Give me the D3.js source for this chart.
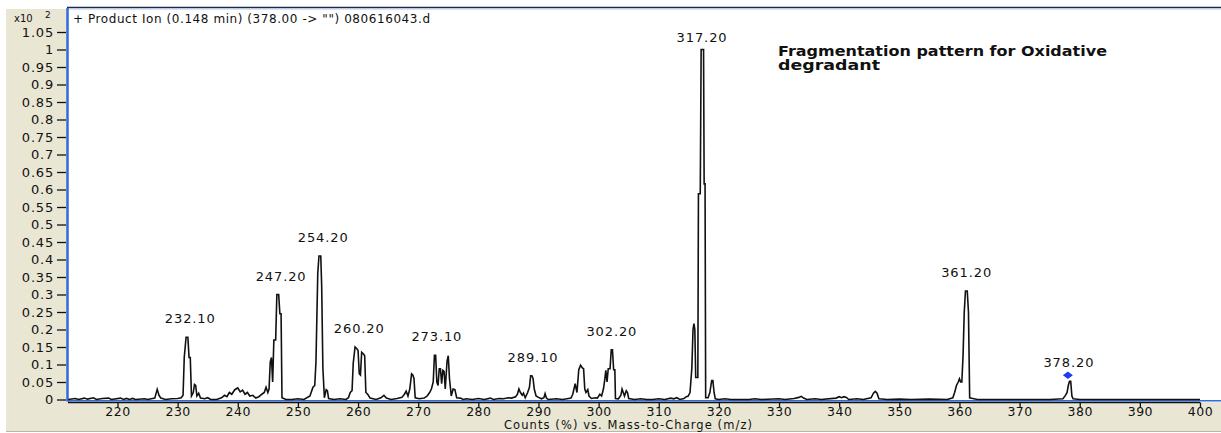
<!DOCTYPE html>
<html>
<head>
<meta charset="utf-8">
<script src="https://cdn.jsdelivr.net/npm/d3@7"></script>
<style>
  body { margin: 0; background: #fff; }
  svg text { font-family: "DejaVu Sans", sans-serif; fill: #111; }
</style>
</head>
<body>
<svg id="spectrum"></svg>
<script>
// profile trace: [m/z, counts x10^2]
const lowNoise = [[211.8,0],[213,0.003],[213.5,0],[214.5,0.004],[215,0.001],[216,0.005],[216.5,0],[217.5,0.003],
  [218.5,0.004],[219,0],[220.5,0.004],[221,0],[221.5,0.003],[222,0],[222.5,0.003],[223,0],[224.5,0.002],[225,0],
  [226.2,0.004],[226.6,0.029],[226.9,0.012],[227.2,0.004],[228,0],[229,0.002],[230,0.003]]
const group232 = [[230.6,0.005],[230.9,0.012],[231.1,0.12],[231.4,0.178],[231.7,0.178],[231.9,0.12],[232.1,0.12],
  [232.3,0.01],[232.6,0.02],[232.8,0.043],[233.0,0.04],[233.2,0.01],[233.5,0.018],[233.8,0.004],[234.5,0.002],
  [235,0.005],[235.5,0]]
const hump240 = [[236.5,0],[237.3,0.005],[237.8,0.012],[238.2,0.008],[238.6,0.02],[239.0,0.015],[239.5,0.028],
  [240.0,0.033],[240.4,0.022],[240.8,0.027],[241.2,0.015],[241.6,0.02],[242.0,0.01],[242.5,0.012],[243.0,0.004],
  [243.5,0.008],[244.0,0.015],[244.4,0.02],[244.7,0.035],[245.0,0.02]]
const group247 = [[245.2,0.03],[245.4,0.107],[245.6,0.12],[245.8,0.05],[246.0,0.17],[246.3,0.17],[246.5,0.30],
  [246.8,0.30],[247.0,0.245],[247.2,0.245],[247.35,0.005],[248,0],[249,0],[250,0.002],[251,0]]
const group254 = [[252.0,0.01],[252.3,0.025],[252.5,0.035],[252.8,0.04],[253.0,0.107],[253.3,0.36],[253.5,0.41],
  [253.8,0.41],[253.95,0.326],[254.15,0.09],[254.4,0.005],[254.7,0.028],[254.9,0.025],[255.1,0.003],[256,0],
  [257,0.002],[258,0]]
const group260 = [[258.4,0.005],[258.7,0.02],[259.0,0.025],[259.2,0.104],[259.5,0.15],[259.8,0.145],[260.0,0.14],
  [260.2,0.074],[260.4,0.07],[260.6,0.135],[260.9,0.13],[261.1,0.125],[261.3,0.02],[261.6,0.015],[262.0,0.004],
  [263,0],[263.8,0.005],[264.3,0.012],[264.7,0.004],[265.5,0]]
const group269 = [[266.5,0.003],[267.3,0.006],[267.7,0.015],[268.0,0.024],[268.3,0.01],[268.6,0.03],[268.9,0.073],
  [269.1,0.07],[269.3,0.06],[269.5,0.005],[270.2,0.002],[271,0.004]]
const group273 = [[271.5,0.01],[271.9,0.02],[272.2,0.03],[272.5,0.05],[272.7,0.126],[272.9,0.126],[273.1,0.05],
  [273.3,0.04],[273.5,0.088],[273.7,0.088],[273.9,0.045],[274.1,0.083],[274.3,0.08],[274.5,0.03],[274.8,0.11],
  [275.0,0.125],[275.2,0.06],[275.5,0.01],[275.8,0.03],[276.1,0.028],[276.4,0.005],[277,0.004],[277.5,0],
  [278,0.002],[279,0],[280,0.003],[281,0],[282,0.004],[282.5,0],[283.5,0.003],[284.2,0.002],[285,0.005]]
const group289 = [[285.5,0.004],[286.2,0.008],[286.5,0.015],[286.75,0.03],[287.0,0.02],[287.3,0.012],[287.5,0.018],
  [287.8,0.005],[288.2,0.02],[288.5,0.035],[288.7,0.068],[288.9,0.068],[289.1,0.06],[289.3,0.03],[289.6,0.01],
  [290.0,0.006],[290.5,0.002],[290.9,0.005],[291.1,0.017],[291.3,0.005],[291.6,0],[293,0.002],[294,0],[295,0.003]]
const group297 = [[295.4,0.004],[295.7,0.015],[295.9,0.03],[296.1,0.045],[296.4,0.02],[296.7,0.085],[297.0,0.098],
  [297.3,0.09],[297.5,0.088],[297.7,0.03],[297.9,0.02],[298.2,0.028],[298.4,0.01],[298.8,0.003],[299.5,0.005]]
const group302 = [[299.8,0.004],[300.2,0.015],[300.5,0.01],[300.8,0.03],[301.0,0.054],[301.2,0.083],[301.4,0.05],
  [301.6,0.088],[301.9,0.088],[302.1,0.142],[302.3,0.142],[302.5,0.085],[302.7,0.085],[302.8,0.003],[303.3,0.002],
  [303.7,0.012],[303.9,0.03],[304.1,0.02],[304.3,0.01],[304.6,0.025],[304.8,0.02],[305.0,0.003],[306,0],
  [307,0.002],[308,0],[309,0],[310,0.002],[311,0],[312,0.004],[312.5,0.002],[313,0.005],[313.5,0],[314.2,0.003],
  [314.6,0.008]]
const group317 = [[314.9,0.01],[315.2,0.02],[315.5,0.089],[315.7,0.2],[315.85,0.217],[316.0,0.2],[316.15,0.063],
  [316.5,0.063],[316.6,0.588],[316.9,0.588],[317.05,1.0],[317.45,1.0],[317.55,0.616],[317.7,0.616],[317.8,0.005],
  [318.2,0.005],[318.5,0.02],[318.8,0.054],[319.0,0.054],[319.2,0.02],[319.4,0.002],[320,0]]
const highNoise = [[321,0.002],[322,0],[325,0],[326,0.002],[327,0],[330,0.002],[331,0],[332.5,0.003],[333.3,0.006],
  [333.7,0.009],[334.1,0.004],[334.6,0],[336,0.002],[337,0],[339.5,0.004],[340.0,0.008],[340.4,0.005],[340.8,0.008],
  [341.2,0.006],[341.6,0],[343,0.002],[344,0],[345.3,0.005],[345.7,0.018],[346.0,0.023],[346.3,0.018],[346.6,0.002],
  [348,0],[350,0.001],[352,0],[355,0.001],[358,0]]
const group361 = [[358.9,0.005],[359.2,0.02],[359.5,0.04],[359.8,0.05],[360.0,0.059],[360.2,0.05],[360.4,0.05],
  [360.6,0.126],[360.8,0.25],[361.0,0.31],[361.3,0.31],[361.5,0.25],[361.7,0.005],[362.2,0.003],[363,0],[365,0],
  [370,0],[375,0]]
const group378 = [[377.2,0.002],[377.6,0.011],[377.9,0.02],[378.1,0.04],[378.3,0.052],[378.5,0.052],[378.7,0.01],
  [378.9,0.002],[380,0],[390,0],[400,0]]

const peakNames = ['232.10', '247.20', '254.20', '260.20', '273.10', '289.10', '302.20', '317.20', '361.20', '378.20']
const peakMz = [232.1, 247.2, 254.2, 260.2, 273.1, 289.1, 302.2, 317.2, 361.2, 378.2]
const peakTop = [0.178, 0.30, 0.411, 0.15, 0.126, 0.068, 0.142, 1.0, 0.31, 0.052]

const xTicks = [220, 230, 240, 250, 260, 270, 280, 290, 300, 310, 320, 330, 340, 350, 360, 370, 380, 390, 400]
const yTicks = [0, 0.05, 0.1, 0.15, 0.2, 0.25, 0.3, 0.35, 0.4, 0.45, 0.5, 0.55, 0.6, 0.65, 0.7, 0.75, 0.8, 0.85,
  0.9, 0.95, 1, 1.05]

const titleText = '+ Product Ion (0.148 min) (378.00 -> "") 080616043.d'
const noteLines = ['Fragmentation pattern for Oxidative', 'degradant']
const xTitle = 'Counts (%) vs. Mass-to-Charge (m/z)'

const width = 1221
const height = 433
const beige = '#e9e6d4'
const blue = '#2f6bdc'

const svg = d3.select('#spectrum')
  .attr('width', width)
  .attr('height', height)

const x = d3.scaleLinear().domain([220, 400]).range([117.5, 1200])
const y = d3.scaleLinear().domain([0, 1]).range([399.5, 49.5])

// frame pieces, like the instrument window
svg.append('rect').attr('x', 0).attr('y', 0).attr('width', width).attr('height', height).attr('fill', '#fff')
svg.append('rect').attr('x', 6).attr('y', 9).attr('width', 61).attr('height', 422).attr('fill', beige)
svg.append('rect').attr('x', 6).attr('y', 402).attr('width', width - 6).attr('height', 29).attr('fill', beige)
svg.append('line').attr('x1', 6).attr('x2', width).attr('y1', 431.5).attr('y2', 431.5)
  .attr('stroke', '#b8b6aa').attr('stroke-width', 1)
svg.append('line').attr('x1', 67).attr('x2', width).attr('y1', 7.5).attr('y2', 7.5)
  .attr('stroke', '#1d2b4d').attr('stroke-width', 1.6)
svg.append('line').attr('x1', 67).attr('x2', width).attr('y1', 9).attr('y2', 9)
  .attr('stroke', '#b9c8e8').attr('stroke-width', 1)

// blue borders of the plot
svg.append('line').attr('x1', 67.5).attr('x2', 67.5).attr('y1', 8).attr('y2', 401.5)
  .attr('stroke', blue).attr('stroke-width', 2.5)
svg.append('line').attr('x1', 67).attr('x2', width).attr('y1', 400.8).attr('y2', 400.8)
  .attr('stroke', blue).attr('stroke-width', 1.4)

// y axis
const yAxis = d3.axisLeft(y)
  .tickValues(yTicks)
  .tickSize(9)
  .tickPadding(3)
  .tickFormat(d => String(+d.toFixed(2)))

const gy = svg.append('g')
  .attr('transform', 'translate(66,0)')
  .call(yAxis)
gy.select('.domain').remove()
gy.selectAll('line').attr('stroke', '#111').attr('stroke-width', 1.3)
gy.selectAll('text')
  .attr('font-size', 13)
  .attr('letter-spacing', 0.8)
  .attr('font-family', '"DejaVu Sans", sans-serif')
  .attr('fill', '#111')

// x axis
const xAxis = d3.axisBottom(x)
  .tickValues(xTicks)
  .tickSize(5)
  .tickPadding(0)
  .tickFormat(d3.format('d'))

const gx = svg.append('g')
  .attr('transform', 'translate(0,402.5)')
  .call(xAxis)
gx.select('.domain').attr('d', 'M68,0H1200').attr('stroke', '#111').attr('stroke-width', 1.6)
gx.selectAll('line').attr('stroke', '#111').attr('stroke-width', 1.3)
gx.selectAll('text')
  .attr('font-size', 12.5)
  .attr('letter-spacing', 0.5)
  .attr('font-family', '"DejaVu Sans", sans-serif')
  .attr('fill', '#111')

// the spectrum trace
const profile = [].concat(lowNoise, group232, hump240, group247, group254, group260, group269, group273,
  group289, group297, group302, group317, highNoise, group361, group378)

const line = d3.line()
  .x(d => x(d[0]))
  .y(d => y(d[1]))

svg.append('path')
  .datum(profile)
  .attr('d', line)
  .attr('fill', 'none')
  .attr('stroke', '#111')
  .attr('stroke-width', 1.6)
  .attr('stroke-linejoin', 'miter')

// peak labels
const peaks = peakNames.map((name, i) => ({ name: name, mz: peakMz[i], top: peakTop[i] }))

svg.selectAll('.peak-label')
  .data(peaks)
  .enter().append('text')
  .attr('class', 'peak-label')
  .attr('x', d => x(d.mz))
  .attr('y', d => Math.max(y(d.top) - 14, 42))
  .attr('text-anchor', 'middle')
  .attr('font-size', 13)
  .attr('letter-spacing', 0.9)
  .text(d => d.name)

// precursor marker on the last peak
const last = peaks[peaks.length - 1]
svg.append('path')
  .attr('d', d3.symbol(d3.symbolDiamond, 30)())
  .attr('transform', `translate(${x(last.mz) - 1},${y(last.top) - 6}) scale(1.7,0.75)`)
  .attr('fill', '#1f3cf0')

// texts
svg.append('text')
  .attr('x', 73).attr('y', 23)
  .attr('font-size', 12)
  .attr('textLength', 357)
  .attr('lengthAdjust', 'spacing')
  .text(titleText)

svg.append('text').attr('x', 14).attr('y', 22).attr('font-size', 10).text('x10')
svg.append('text').attr('x', 45).attr('y', 18).attr('font-size', 9).text('2')

svg.selectAll('.note')
  .data(noteLines)
  .enter().append('text')
  .attr('class', 'note')
  .attr('x', 778)
  .attr('y', (d, i) => 56 + i * 14)
  .attr('font-size', 14)
  .attr('font-weight', 'bold')
  .attr('textLength', (d, i) => i === 0 ? 329 : 102)
  .attr('lengthAdjust', 'spacingAndGlyphs')
  .text(d => d)

svg.append('text')
  .attr('x', 504).attr('y', 429)
  .attr('font-size', 11.5)
  .attr('textLength', 248)
  .attr('lengthAdjust', 'spacing')
  .text(xTitle)
</script>
</body>
</html>
